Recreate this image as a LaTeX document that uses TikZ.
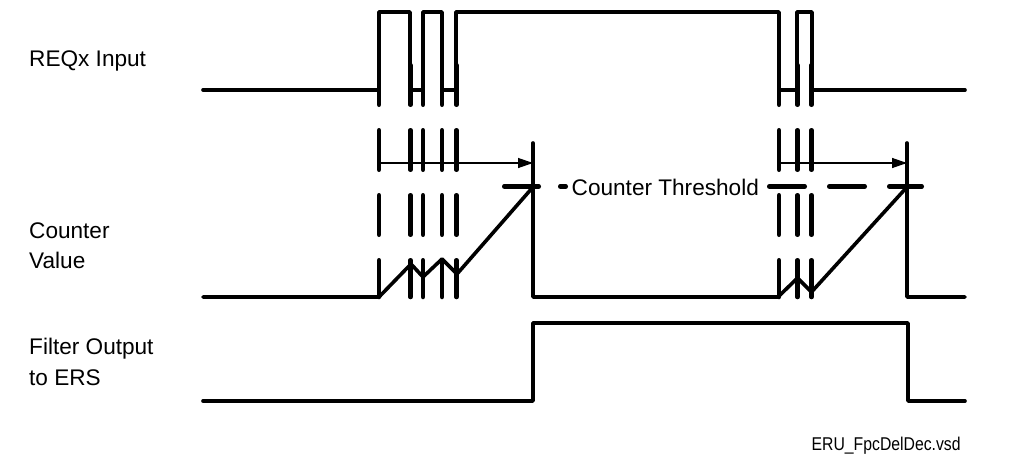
\documentclass[tikz,border=0pt]{standalone}
\usepackage{fontspec}
\setmainfont{Liberation Sans}
\usetikzlibrary{arrows.meta}
\begin{document}
\begin{tikzpicture}[x=1pt,y=-1pt,
  sig/.style={line width=3.6pt,line join=round,line cap=round},
  marker/.style={line width=4.5pt,line cap=round,dash pattern=on 39.5pt off 25.5pt},
  thrL/.style={line width=4.5pt,line cap=round,dash pattern=on 34.5pt off 21.5pt},
  thrR/.style={line width=4.5pt,line cap=round,dash pattern=on 35.5pt off 24.5pt},
  span/.style={line width=1.3pt,-{Triangle[length=15pt,width=10pt]}},
  lbl/.style={anchor=base west,inner sep=0pt,font=\fontsize{22.6}{26}\selectfont},
]
\useasboundingbox (0,0) rectangle (1015,460);

% labels
\node[lbl] (reqlbl) at (29,66.5) {REQx Input};
\node[lbl] (cntlblA) at (29,238) {Counter};
\node[lbl] (cntlblB) at (29,268) {Value};
\node[lbl] (outlblA) at (29,354) {Filter Output};
\node[lbl] (outlblB) at (29,385) {to ERS};
\node[lbl] (thrlbl) at (571.5,195) {Counter Threshold};
\node[anchor=base west,inner sep=0pt,font=\fontsize{18.5}{22}\selectfont] (file) at (811.5,450) {\scalebox{0.852}[1]{ERU\_FpcDelDec.vsd}};

% REQx input signal
\draw[sig] (203,90) -- (379,90) -- (379,12) -- (410,12) -- (410,90) -- (423,90) -- (423,12)
  -- (442,12) -- (442,90) -- (456,90) -- (456,12) -- (779,12) -- (779,90) -- (797,90)
  -- (797,12) -- (812,12) -- (812,90) -- (965,90);

% dashed edge markers
\foreach \x in {379,410.5,423,442,456.5,779,797.5,811.5}
  \draw[marker] (\x,65.25) -- (\x,297);

% counter threshold
\draw[thrL] (504.25,186.5) -- (565.75,186.5);
\draw[thrR] (769.25,186.5) -- (921.75,186.5);

% counter value
\draw[sig] (203,297) -- (379,297) -- (411,264) -- (423,277) -- (442,259) -- (457,274)
  -- (533,187) -- (533,297) -- (778,297) -- (797.5,278) -- (811.5,292) -- (907,187)
  -- (907,297) -- (965,297);
\coordinate (t1top) at (533,143);
\coordinate (t1bot) at (533,187);
\coordinate (t2top) at (907,143);
\coordinate (t2bot) at (907,187);
\draw[sig] (t1top) -- (t1bot);
\draw[sig] (t2top) -- (t2bot);

% delay arrows
\coordinate (a1s) at (379,163);
\coordinate (a1e) at (533,163);
\coordinate (a2s) at (779,163);
\coordinate (a2e) at (907,163);
\draw[span] (a1s) -- (a1e);
\draw[span] (a2s) -- (a2e);

% filter output
\draw[sig] (203,401) -- (533,401) -- (533,323) -- (908,323) -- (908,401) -- (965,401);
\end{tikzpicture}
\end{document}
